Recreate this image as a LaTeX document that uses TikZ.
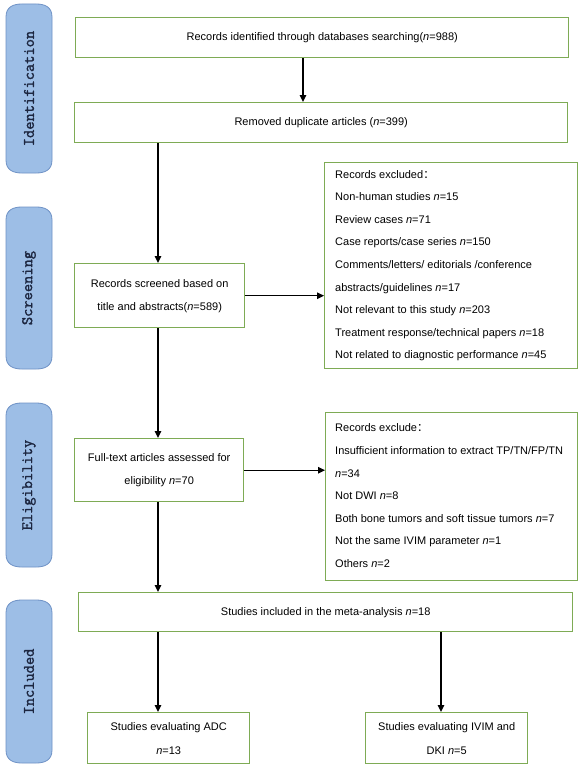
\documentclass[tikz,border=0pt]{standalone}
\usepackage{fontspec}
\setmainfont{Liberation Sans}
\newfontfamily\cjk{Noto Sans CJK SC}
\newfontfamily\labfont{Latin Modern Mono}[FakeBold=1.6]
\usetikzlibrary{arrows.meta,calc}
\definecolor{boxgreen}{HTML}{7EAB55}
\definecolor{labfill}{HTML}{9DBEE6}
\definecolor{labedge}{HTML}{6F92C6}
\definecolor{labtextcol}{HTML}{1C2640}
\newcommand\phaselab[6]{%
  \filldraw[fill=labfill,draw=labedge,line width=0.8pt]
    (#2,#3+13) .. controls (#2,#3+3) and (#2+7,#3) .. (#2+16,#3)
    -- (#4-16,#3) .. controls (#4-7,#3) and (#4,#3+3) .. (#4,#3+13)
    -- (#4,#5-13) .. controls (#4,#5-3) and (#4-7,#5) .. (#4-16,#5)
    -- (#2+16,#5) .. controls (#2+7,#5) and (#2,#5-3) .. (#2,#5-13) -- cycle;
  \node[labtext] (#1) at ({(#2+#4)/2},{(#3+#5)/2}) {#6};}
\begin{document}
\begin{tikzpicture}[x=1pt,y=-1pt,
  box/.style={draw=boxgreen,line width=1.4pt,fill=white,inner sep=0pt,anchor=north west,
    font=\fontsize{11}{23}\selectfont,align=center},
  listtext/.style={anchor=west,inner sep=0pt,align=left,font=\fontsize{11}{22.6}\selectfont},
  arr/.style={line width=1.3pt,-{Triangle[length=7pt,width=6.5pt]}},
  labtext/.style={rotate=90,font=\labfont\fontsize{16}{18}\selectfont,text=labtextcol}]
\useasboundingbox[fill=white] (0,0) rectangle (582,768);

% phase labels
\phaselab{lid}{6}{4}{52}{173}{Identification}
\phaselab{lsc}{6}{207}{52}{369}{Screening}
\phaselab{lel}{6}{403}{52}{567}{Eligibility}
\phaselab{lin}{6}{600}{52}{763}{Included}

% boxes
\node[box,minimum width=493pt,minimum height=40pt] (b1) at (75,17)
  {Records identified through databases searching(\textit{n}=988)};
\node[box,minimum width=493pt,minimum height=40pt] (b2) at (74,102)
  {Removed duplicate articles (\textit{n}=399)};
\node[box,minimum width=253pt,minimum height=206pt] (x1) at (324,162) {};
\node[listtext] (x1t) at ([xshift=11pt]x1.west)
  {Records excluded\cjk{：}\\
   Non-human studies \textit{n}=15\\
   Review cases \textit{n}=71\\
   Case reports/case series \textit{n}=150\\
   Comments/letters/ editorials /conference\\
   abstracts/guidelines \textit{n}=17\\
   Not relevant to this study \textit{n}=203\\
   Treatment response/technical papers \textit{n}=18\\
   Not related to diagnostic performance \textit{n}=45};
\node[box,minimum width=170pt,minimum height=64pt] (sc) at (74,263)
  {Records screened based on\\title and abstracts(\textit{n}=589)};
\node[box,minimum width=169pt,minimum height=63pt] (ft) at (74,438)
  {Full-text articles assessed for\\eligibility \textit{n}=70};
\node[box,minimum width=252pt,minimum height=168pt] (x2) at (325,412) {};
\node[listtext] (x2t) at ([xshift=10pt,yshift=1pt]x2.west)
  {Records exclude\cjk{：}\\
   Insufficient information to extract TP/TN/FP/TN\\
   \textit{n}=34\\
   Not DWI \textit{n}=8\\
   Both bone tumors and soft tissue tumors \textit{n}=7\\
   Not the same IVIM parameter \textit{n}=1\\
   Others \textit{n}=2};
\node[box,minimum width=494pt,minimum height=39pt] (ma) at (78,592)
  {Studies included in the meta-analysis \textit{n}=18};
\node[box,minimum width=162pt,minimum height=51pt,font=\fontsize{11}{24}\selectfont] (adc) at (87,712)
  {Studies evaluating ADC\\\textit{n}=13};
\node[box,minimum width=162pt,minimum height=51pt,font=\fontsize{11}{24}\selectfont] (iv) at (365,712)
  {Studies evaluating IVIM and\\DKI \textit{n}=5};

% connectors
\coordinate (c1) at (303,0);
\coordinate (c2) at (158,0);
\coordinate (c3) at (441,0);
\draw[arr] (c1 |- b1.south) -- (c1 |- b2.north);
\draw[arr] (c2 |- b2.south) -- (c2 |- sc.north);
\draw[arr] (sc.east) -- (sc.east -| x1.west);
\draw[arr] (c2 |- sc.south) -- (c2 |- ft.north);
\draw[arr] (ft.east) -- (ft.east -| x2.west);
\draw[arr] (c2 |- ft.south) -- (c2 |- ma.north);
\draw[arr] (c2 |- ma.south) -- (c2 |- adc.north);
\draw[arr] (c3 |- ma.south) -- (c3 |- iv.north);
\end{tikzpicture}
\end{document}
